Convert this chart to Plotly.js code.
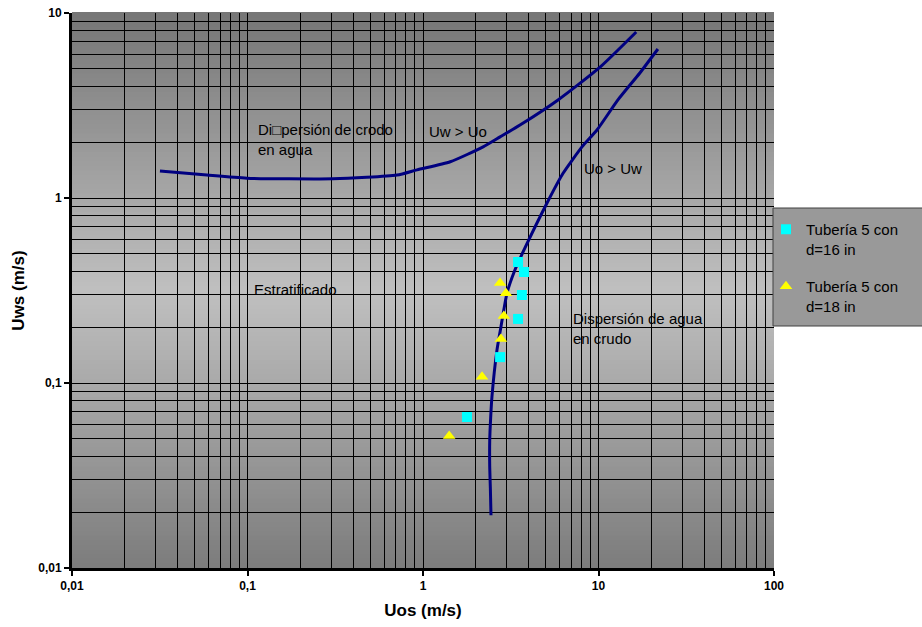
<!DOCTYPE html>
<html>
<head>
<meta charset="utf-8">
<script src="https://cdn.plot.ly/plotly-3.0.1.min.js"></script>
<style>html,body{margin:0;padding:0;background:#fff;}#chart{width:922px;height:627px;}</style>
</head>
<body>
<div id="chart"></div>
<script>
// ---- data ----
const curveUpperX = [0.0317, 0.0587, 0.0993, 0.307, 0.711, 0.925, 1.43, 2.20, 2.75, 3.57, 5.88, 10.2, 16.4];
const curveUpperY = [1.40, 1.33, 1.28, 1.27, 1.33, 1.42, 1.57, 1.89, 2.14, 2.48, 3.39, 5.1, 7.9];

const curveLowerX = [2.44, 2.42, 2.40, 2.40, 2.43, 2.47, 2.64, 2.78, 3.01, 3.34, 3.81, 5.09, 6.28, 8.05, 9.8, 12.9, 17.2, 21.8];
const curveLowerY = [0.0193, 0.027, 0.035, 0.049, 0.065, 0.084, 0.151, 0.201, 0.306, 0.408, 0.537, 0.94, 1.36, 1.89, 2.33, 3.39, 4.74, 6.39];

const sqX = [3.48, 3.76, 3.66, 3.48, 2.75, 1.78];
const sqY = [0.451, 0.398, 0.299, 0.222, 0.138, 0.0655];

const triX = [2.75, 2.97, 2.89, 2.78, 2.17, 1.41];
const triY = [0.347, 0.306, 0.230, 0.173, 0.108, 0.0517];

const seriesNames = ['Tubería 5 con<br>d=16 in', 'Tubería 5 con<br>d=18 in'];

const xTickVals = [0.01, 0.1, 1, 10, 100];
const xTickText = ['0,01', '0,1', '1', '10', '100'];
const yTickVals = [0.01, 0.1, 1, 10];
const yTickText = ['0,01', '0,1', '1', '10'];

const labelText = ['Di\u25A1persión de crodo<br>en agua', 'Uw > Uo', 'Uo > Uw', 'Estratificado', 'Dispersión de agua<br>en crudo'];
const labelX = [0.112, 1.054, 8.05, 0.106, 6.97];
const labelY = [2.06, 2.30, 1.45, 0.322, 0.198];

// ---- build ----
function minorVals(lo, hi) {
  const v = [];
  for (let e = lo; e < hi; e++) for (let k = 2; k <= 9; k++) v.push(k * Math.pow(10, e));
  return v;
}

const traces = [
  {x: curveUpperX, y: curveUpperY, mode: 'lines', line: {color: '#000080', width: 3, shape: 'spline', smoothing: 0.6}, showlegend: false, hoverinfo: 'skip'},
  {x: curveLowerX, y: curveLowerY, mode: 'lines', line: {color: '#000080', width: 3, shape: 'spline', smoothing: 0.5}, showlegend: false, hoverinfo: 'skip'},
  {x: sqX, y: sqY, mode: 'markers', name: seriesNames[0], legendgroup: 'a', marker: {symbol: 'square', size: 10, color: '#00FFFF'}},
  {x: triX, y: triY, mode: 'markers', name: seriesNames[1], legendgroup: 'b', marker: {symbol: 'triangle-up', size: 11, color: '#FFFF00'}}
];

// background gradient bands
const shapes = [];
const N = 120;
for (let i = 0; i < N; i++) {
  const t = (i + 0.5) / N; // 0 = bottom, 1 = top
  const d = Math.abs(t - 0.5) / 0.5;
  const top = t > 0.5;
  const edge = top ? 0x76 : 0x7c;
  const c = Math.round(0xc0 - (0xc0 - edge) * d);
  shapes.push({type: 'rect', xref: 'paper', yref: 'paper', x0: 0, x1: 1, y0: i / N, y1: (i + 1) / N + 0.002,
    fillcolor: `rgb(${c},${c},${c})`, line: {width: 0}, layer: 'below'});
}
// legend box
shapes.push({type: 'rect', xref: 'paper', yref: 'paper', x0: (773 - 72) / 702, x1: (922 - 72) / 702 + 0.01,
  y0: (568 - 326) / 555, y1: (568 - 208) / 555, fillcolor: '#999999', line: {color: '#404040', width: 1}, layer: 'above'});

const annotations = labelText.map((t, i) => ({
  x: Math.log10(labelX[i]), y: Math.log10(labelY[i]), xref: 'x', yref: 'y', text: t, showarrow: false,
  xanchor: 'left', yanchor: 'middle', align: 'left', font: {family: 'Liberation Sans, Arial', size: 15, color: '#000'}
}));

const axisCommon = {
  type: 'log', showline: true, linecolor: '#000', linewidth: 3, mirror: false,
  ticks: 'outside', ticklen: 5, tickwidth: 2, tickcolor: '#000',
  showgrid: true, gridcolor: '#000', gridwidth: 1, zeroline: false,
  tickfont: {family: 'Liberation Sans, Arial', size: 12, color: '#000', weight: 'bold'},
  tickmode: 'array', automargin: false
};

const layout = {
  width: 922, height: 627,
  margin: {l: 72, r: 148, t: 13, b: 59},
  paper_bgcolor: '#fff', plot_bgcolor: 'rgba(0,0,0,0)',
  xaxis: Object.assign({}, axisCommon, {
    range: [-2, 2], tickvals: xTickVals, ticktext: xTickText,
    minor: {tickmode: 'array', tickvals: minorVals(-2, 2), showgrid: true, gridcolor: '#000', gridwidth: 1, ticks: ''},
    title: {text: 'Uos (m/s)', font: {family: 'Liberation Sans, Arial', size: 17, color: '#000', weight: 'bold'}, standoff: 12}
  }),
  yaxis: Object.assign({}, axisCommon, {
    range: [-2, 1], tickvals: yTickVals, ticktext: yTickText,
    minor: {tickmode: 'array', tickvals: minorVals(-2, 1), showgrid: true, gridcolor: '#000', gridwidth: 1, ticks: ''},
    title: {text: 'Uws (m/s)', font: {family: 'Liberation Sans, Arial', size: 17, color: '#000', weight: 'bold'}, standoff: 10}
  }),
  showlegend: true,
  legend: {x: (766 - 72) / 702, y: (568 - 213) / 555, xanchor: 'left', yanchor: 'top', bgcolor: 'rgba(0,0,0,0)',
    borderwidth: 0, valign: 'top', tracegroupgap: 15,
    font: {family: 'Liberation Sans, Arial', size: 15, color: '#000'}},
  shapes: shapes,
  annotations: annotations
};

Plotly.newPlot('chart', traces, layout, {displayModeBar: false, staticPlot: true});
</script>
</body>
</html>
